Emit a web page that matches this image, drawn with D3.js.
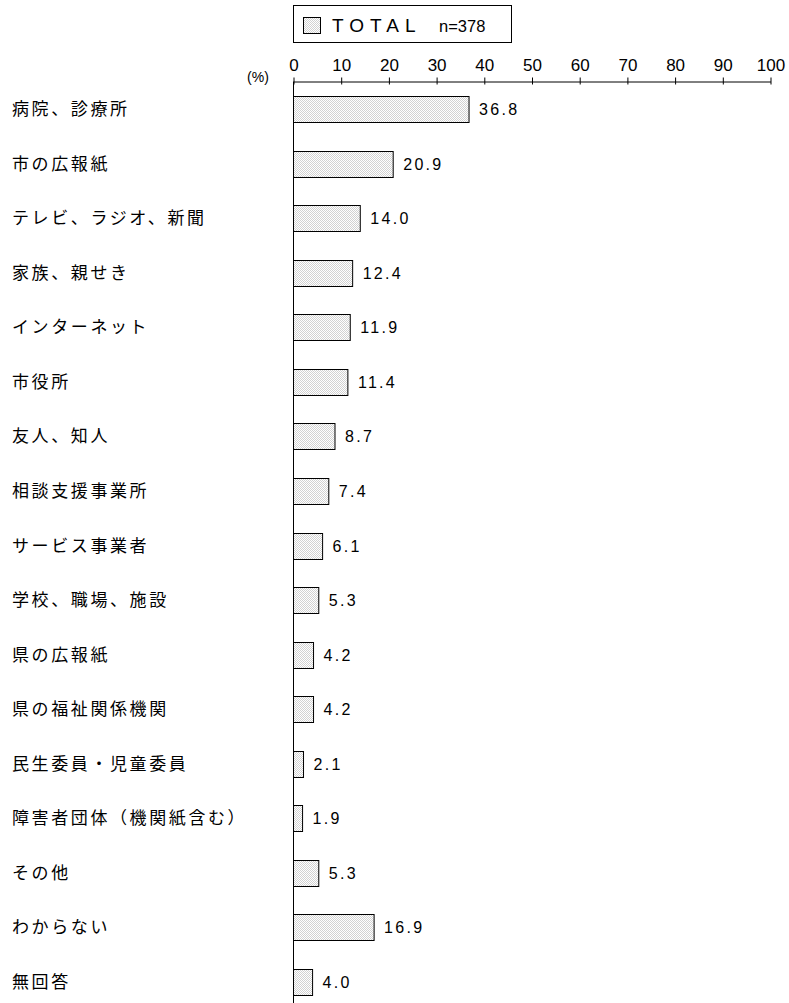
<!DOCTYPE html>
<html><head><meta charset="utf-8">
<script src="https://cdn.jsdelivr.net/npm/d3@7/dist/d3.min.js"></script>
<style>body{margin:0;background:#fff}svg{display:block}</style>
</head><body>
<script>
const categories = ["病院、診療所","市の広報紙","テレビ、ラジオ、新聞","家族、親せき","インターネット","市役所","友人、知人","相談支援事業所","サービス事業者","学校、職場、施設","県の広報紙","県の福祉関係機関","民生委員・児童委員","障害者団体（機関紙含む）","その他","わからない","無回答"];
const values = [36.8,20.9,14.0,12.4,11.9,11.4,8.7,7.4,6.1,5.3,4.2,4.2,2.1,1.9,5.3,16.9,4.0];
const ticks = [0,10,20,30,40,50,60,70,80,90,100];
const seriesName = "TOTAL";
const nLabel = "n=378";

const W = 789, H = 1003;
const svg = d3.select("body").append("svg").attr("width", W).attr("height", H);
const defs = svg.append("defs");
const pat = defs.append("pattern").attr("id","dots").attr("patternUnits","userSpaceOnUse").attr("width",2).attr("height",2);
pat.append("rect").attr("width",2).attr("height",2).attr("fill","#fff");
pat.append("rect").attr("width",1).attr("height",1).attr("fill","#d2d2d2");
pat.append("rect").attr("x",1).attr("y",1).attr("width",1).attr("height",1).attr("fill","#d2d2d2");

const x = d3.scaleLinear().domain([0,100]).range([293.5,770.5]);
const y = d3.scalePoint().domain(categories).range([109,982]);
const axisY = 81.5;
const barH = 26;

// top axis
const ax = svg.append("g").attr("transform", `translate(0,${axisY})`)
  .call(d3.axisTop(x).tickValues(ticks).tickSize(0).tickPadding(11).tickFormat(d3.format("d")));
ax.select(".domain").attr("stroke","#000");
ax.selectAll(".tick line").remove();
ax.selectAll(".tick").append("line").attr("y1",-4).attr("y2",3).attr("stroke","#000");
ax.selectAll(".tick text").attr("font-family","Liberation Sans, Arial, sans-serif").attr("font-size",17).attr("fill","#000");

svg.append("text").attr("x",258).attr("y",82).attr("text-anchor","middle")
  .attr("font-family","Liberation Sans, Arial, sans-serif").attr("font-size",14).text("(%)");

// vertical axis line
svg.append("line").attr("x1",x(0)).attr("x2",x(0)).attr("y1",axisY).attr("y2",H).attr("stroke","#000");

// bars
svg.append("g").selectAll("rect").data(values).join("rect")
  .attr("x", x(0))
  .attr("y", (d,i)=> Math.round(y(categories[i]) - barH/2) + 0.5)
  .attr("width", d => x(d) - x(0))
  .attr("height", barH)
  .attr("fill","url(#dots)").attr("stroke","#000").attr("stroke-width",1);

// value labels
svg.append("g").selectAll("text").data(values).join("text")
  .attr("x", d => x(d) + 10)
  .attr("y", (d,i)=> y(categories[i]) + 6)
  .attr("font-family","Liberation Sans, Arial, sans-serif").attr("font-size",16)
  .attr("letter-spacing","2.3px")
  .text(d => d3.format(".1f")(d));

// category labels
svg.append("g").selectAll("text").data(categories).join("text")
  .attr("x", 12)
  .attr("y", d => y(d) + 6)
  .attr("font-family","Noto Sans CJK JP, sans-serif").attr("font-size",17)
  .attr("letter-spacing","2.6px")
  .text(d => d);

// legend
const lg = svg.append("g");
lg.append("rect").attr("x",293.5).attr("y",5.5).attr("width",218).attr("height",37).attr("fill","#fff").attr("stroke","#000");
lg.append("rect").attr("x",303.5).attr("y",17.5).attr("width",17).attr("height",16).attr("fill","url(#dots)").attr("stroke","#000");
lg.append("text").attr("x",332).attr("y",32).attr("font-family","Liberation Sans, Arial, sans-serif").attr("font-size",19)
  .attr("letter-spacing","6px").text(seriesName);
lg.append("text").attr("x",439).attr("y",32).attr("font-family","Liberation Sans, Arial, sans-serif").attr("font-size",16.5).text(nLabel);
</script>
</body></html>
